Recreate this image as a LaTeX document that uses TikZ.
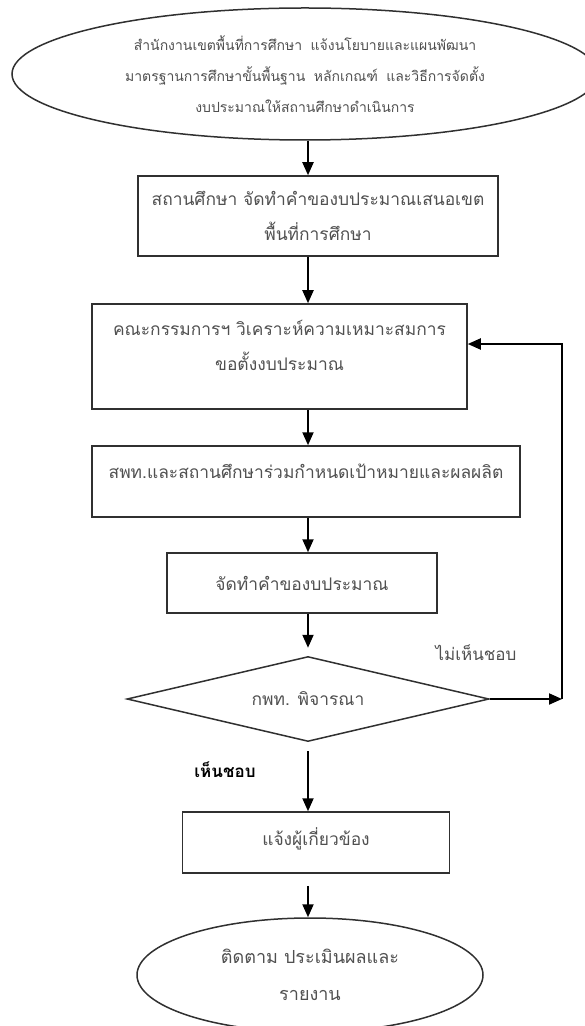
\documentclass[tikz,border=0pt]{standalone}
\usepackage{fontspec}
\usetikzlibrary{shapes.geometric,arrows.meta}
\newfontfamily\thaifont[Script=Thai]{Loma}
\definecolor{txtgray}{HTML}{505050}
\definecolor{linegray}{HTML}{303030}

\begin{document}
\begin{tikzpicture}[x=0.5pt,y=-0.5pt,
    box/.style={draw=linegray,line width=0.75pt,rectangle,inner sep=0pt,align=center,text=txtgray,font=\thaifont\fontsize{8.7}{17.5}\selectfont},
    oval/.style={box,ellipse},
    decision/.style={box,diamond,aspect=4.3},
    flow/.style={-{Triangle[length=6.5pt,width=5.5pt]},line width=1pt,black}]
    \useasboundingbox (0,0) rectangle (584,1026);
    \coordinate (axis) at (308,0);
    \coordinate (loop) at (562,344);
    \node (start) at (305,74) [oval,minimum width=293pt,minimum height=66pt,font=\thaifont\fontsize{7}{15.5}\selectfont] {สำนักงานเขตพื้นที่การศึกษา\hspace{0.6em}แจ้งนโยบายและแผนพัฒนา\\มาตรฐานการศึกษาขั้นพื้นฐาน\hspace{0.6em}หลักเกณฑ์\hspace{0.6em}และวิธีการจัดตั้ง\\งบประมาณให้สถานศึกษาดำเนินการ};
    \node (request) at (318,216) [box,minimum width=180pt,minimum height=40pt] {สถานศึกษา จัดทำคำของบประมาณเสนอเขต\\พื้นที่การศึกษา};
    \node (review) at (279.5,356.5) [box,minimum width=187.5pt,minimum height=52.5pt,text depth=11pt] {คณะกรรมการฯ วิเคราะห์ความเหมาะสมการ\\ขอตั้งงบประมาณ};
    \node (target) at (306,481.5) [box,minimum width=214pt,minimum height=35.5pt,text depth=10pt] {สพท.และสถานศึกษาร่วมกำหนดเป้าหมายและผลผลิต};
    \node (budget) at (302,583) [box,minimum width=135pt,minimum height=30pt] {จัดทำคำของบประมาณ};
    \node (consider) at (308,699) [decision,minimum width=181pt,minimum height=42.5pt] {กพท. พิจารณา};
    \node (inform) at (316,842.5) [box,minimum width=133.5pt,minimum height=30.5pt,text depth=6pt] {แจ้งผู้เกี่ยวข้อง};
    \node (finish) at (310,975) [oval,minimum width=173pt,minimum height=57pt,font=\thaifont\fontsize{9}{18.5}\selectfont] {ติดตาม ประเมินผลและ\\รายงาน};
    \node (reject) at (476,653) [font=\thaifont\fontsize{8.5}{11}\selectfont,text=txtgray] {ไม่เห็นชอบ};
    \node (accept) at (225,770) [font=\thaifont\bfseries\fontsize{8.5}{11}\selectfont,text=black] {เห็นชอบ};
    \draw [flow] (start.south -| axis) -- (request.north -| axis);
    \draw [flow] (request.south -| axis) -- (review.north -| axis);
    \draw [flow] (review.south -| axis) -- (target.north -| axis);
    \draw [flow] (target.south -| axis) -- (budget.north -| axis);
    \draw [flow,shorten >=4pt] (budget.south -| axis) -- (consider.north -| axis);
    \draw [flow,shorten <=4.5pt] (consider.south -| axis) -- (inform.north -| axis);
    \draw [flow,shorten <=6pt] (inform.south -| axis) -- (finish.north -| axis);
    \draw [flow] (consider.east) -- (consider.east -| loop);
    \draw [flow] (consider.east -| loop) -- (loop) -- (loop -| review.east);
\end{tikzpicture}
\end{document}
